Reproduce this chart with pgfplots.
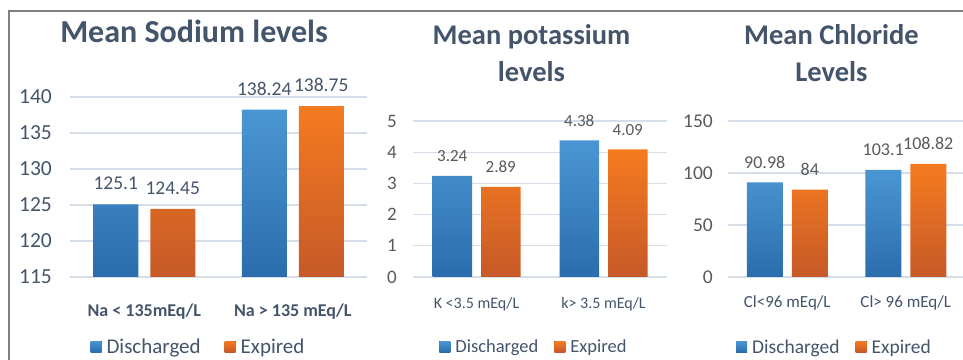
\documentclass[border=0pt]{standalone}
\usepackage{fontspec}
\setmainfont{Carlito}
\usepackage{pgfplots}
\pgfplotsset{compat=1.18}
\definecolor{bluetop}{HTML}{4A96D3}
\definecolor{bluebot}{HTML}{2B6DAC}
\definecolor{orgtop}{HTML}{F57B20}
\definecolor{orgbot}{HTML}{C65928}
\definecolor{titlec}{HTML}{44546A}
\definecolor{labc}{HTML}{595959}
\definecolor{gridc}{HTML}{D5DEE8}
\definecolor{framec}{HTML}{808080}
\newcommand{\fs}[1]{\fontsize{#1}{#1}\selectfont}
\pgfplotsset{
  panel/.style={
    scale only axis, anchor=south west, ybar,
    xmin=-0.5, xmax=1.5, xtick={0,1},
    axis line style={draw=none},
    major tick length=0pt,
    ymajorgrids, major grid style={gridc, line width=1.2bp},
    /pgf/number format/assume math mode=true,
    nodes near coords,
    every node near coord/.append style={inner sep=0pt, yshift=14bp},
    legend columns=2,
    legend style={draw=none, fill=none, text=titlec, at={(0.5,0)}, anchor=center,
      nodes={inner sep=2bp},
      /tikz/every odd column/.append style={column sep=3bp}},
    yticklabel style={anchor=east, inner sep=0pt},
    xticklabel style={anchor=base, inner sep=0pt, text=titlec},
  },
  dis/.style={draw=none, top color=bluetop, bottom color=bluebot,
    legend image code/.code={\fill[top color=bluetop, bottom color=bluebot] (0bp,-5bp) rectangle (11bp,6bp);}},
  exp/.style={draw=none, top color=orgtop, bottom color=orgbot,
    legend image code/.code={\fill[top color=orgtop, bottom color=orgbot] (0bp,-5bp) rectangle (11bp,6bp);}},
}
\begin{document}
\begin{tikzpicture}
\useasboundingbox (0,0) rectangle (963bp,360bp);
\draw[framec, line width=1.5bp] (9bp,-5bp) -- (9bp,349bp) -- (970bp,349bp);

% Sodium
\node[font=\bfseries\fs{32bp}, text=titlec, anchor=base] at (194bp,317bp) {Mean Sodium levels};
\begin{axis}[panel, at={(70bp,83bp)}, width=297bp, height=180bp,
  ymin=115, ymax=140, ytick={115,120,...,140},
  bar width=45bp, ybar=12bp,
  xticklabels={Na < 135mEq/L, Na > 135 mEq/L},
  xticklabel style={font=\bfseries\fs{18bp}, yshift=-39bp},
  yticklabel style={font=\fs{21.5bp}, text=titlec, xshift=-18bp},
  nodes near coords style={font=\fs{19.5bp}, text=titlec},
  legend style={font=\fs{21bp}, xshift=-20bp, yshift=-70bp,
    /tikz/every even column/.append style={column sep=22bp}},
]
\addplot[dis] coordinates {(0,125.1) (1,138.24)};
\addplot[exp] coordinates {(0,124.45) (1,138.75)};
\legend{Discharged, Expired}
\end{axis}

% Potassium
\node[font=\bfseries\fs{28.5bp}, text=titlec, anchor=base] at (531.5bp,315bp) {Mean potassium};
\node[font=\bfseries\fs{28.5bp}, text=titlec, anchor=base] at (531.5bp,278bp) {levels};
\begin{axis}[panel, at={(413bp,83bp)}, width=254bp, height=156bp,
  ymin=0, ymax=5, ytick={0,1,...,5},
  bar width=39.5bp, ybar=9bp,
  xticklabels={K <3.5 mEq/L, k> 3.5 mEq/L},
  xticklabel style={font=\fs{16bp}, yshift=-31bp},
  yticklabel style={font=\fs{19bp}, text=labc, xshift=-16bp},
  nodes near coords style={font=\fs{17bp}, text=labc},
  legend style={font=\fs{18.5bp}, xshift=-6bp, yshift=-70bp,
    /tikz/every even column/.append style={column sep=14bp}},
]
\addplot[dis] coordinates {(0,3.24) (1,4.38)};
\addplot[exp] coordinates {(0,2.89) (1,4.09)};
\legend{Discharged, Expired}
\end{axis}

% Chloride
\node[font=\bfseries\fs{28.5bp}, text=titlec, anchor=base] at (831.5bp,315bp) {Mean Chloride};
\node[font=\bfseries\fs{28.5bp}, text=titlec, anchor=base] at (831.5bp,278bp) {Levels};
\begin{axis}[panel, at={(728bp,83bp)}, width=237bp, height=156bp,
  ymin=0, ymax=150, ytick={0,50,...,150},
  bar width=36bp, ybar=9bp,
  xticklabels={Cl<96 mEq/L, Cl> 96 mEq/L},
  xticklabel style={font=\fs{17bp}, yshift=-30bp},
  yticklabel style={font=\fs{19.5bp}, text=labc, xshift=-15bp},
  nodes near coords style={font=\fs{18bp}, text=labc},
  legend style={font=\fs{19.5bp}, xshift=-12bp, yshift=-70bp,
    /tikz/every even column/.append style={column sep=14bp}},
]
\addplot[dis] coordinates {(0,90.98) (1,103.1)};
\addplot[exp] coordinates {(0,84) (1,108.82)};
\legend{Discharged, Expired}
\end{axis}
\end{tikzpicture}
\end{document}
